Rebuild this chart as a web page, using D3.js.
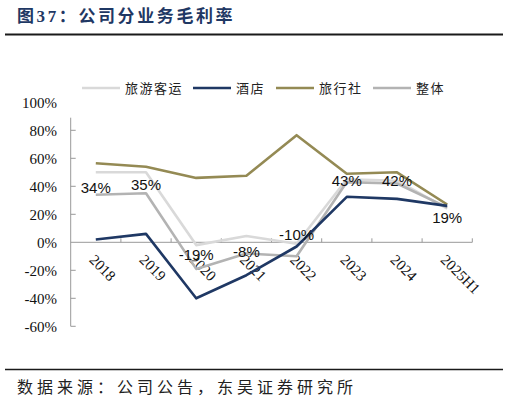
<!DOCTYPE html>
<html>
<head>
<meta charset="utf-8">
<script src="https://cdn.jsdelivr.net/npm/d3@7"></script>
<style>
  body { margin: 0; background: #fff; }
  svg { display: block; }
</style>
</head>
<body>
<div id="chart"></div>
<script>
// categories
const years = ['2018', '2019', '2020', '2021', '2022', '2023', '2024', '2025H1'];

// series values (%)
const coachValues  = [50, 50, -2, 4.5, -1, 45, 44, 24];       // 旅游客运
const hotelValues  = [2, 6, -40, -23.5, -3, 32.5, 31, 26];    // 酒店
const agencyValues = [56.5, 54, 46, 47.5, 76.5, 49, 50, 27];  // 旅行社
const totalValues  = [34, 35, -19, -8, -10, 43, 42, 25];      // 整体

// labels on the total series
const totalLabels = ['34%', '35%', '-19%', '-8%', '-10%', '43%', '42%', '19%'];
const labelDy = [-2, -3, -9, 3, -16, 4, 2, 16];

// y axis ticks
const yTicks = [-60, -40, -20, 0, 20, 40, 60, 80, 100];

const width = 509, height = 402;
const plot = {left: 70.7, right: 472.3, top: 102.3, bottom: 326.3};

const svg = d3.select('#chart').append('svg')
    .attr('width', width)
    .attr('height', height);

const x = d3.scaleBand().domain(years).range([plot.left, plot.right]);
const y = d3.scaleLinear().domain([-60, 100]).range([plot.bottom, plot.top]);
const cx = d => x(d) + x.bandwidth() / 2;

// title
svg.append('text')
    .attr('x', 17).attr('y', 22)
    .attr('fill', '#1f3864')
    .attr('font-family', '"Liberation Serif", "Noto Sans CJK SC", serif')
    .attr('font-weight', 'bold')
    .attr('font-size', 17)
    .attr('letter-spacing', 2.6)
    .text('图37：公司分业务毛利率');
svg.append('line')
    .attr('x1', 5).attr('x2', 503).attr('y1', 34.5).attr('y2', 34.5)
    .attr('stroke', '#1a1a1a').attr('stroke-width', 2);

// y axis
svg.append('line')
    .attr('x1', plot.left).attr('x2', plot.left)
    .attr('y1', y(89)).attr('y2', y(-60))
    .attr('stroke', '#999').attr('stroke-width', 1);
svg.append('g').selectAll('line')
    .data(yTicks.filter(v => v < 100 && v !== 0))
    .join('line')
    .attr('x1', plot.left).attr('x2', plot.left + 5)
    .attr('y1', d => y(d)).attr('y2', d => y(d))
    .attr('stroke', '#999');
svg.append('g').selectAll('text')
    .data(yTicks)
    .join('text')
    .attr('x', 57).attr('y', d => y(d))
    .attr('dy', '0.35em')
    .attr('text-anchor', 'end')
    .attr('font-family', '"Liberation Serif", serif')
    .attr('font-size', 15)
    .attr('fill', '#111')
    .text(d => d + '%');

// x axis at zero
svg.append('line')
    .attr('x1', plot.left).attr('x2', plot.right)
    .attr('y1', y(0)).attr('y2', y(0))
    .attr('stroke', '#999');
svg.append('g').selectAll('line')
    .data(years.slice(1).concat(['end']))
    .join('line')
    .attr('x1', (d, i) => plot.left + (i + 1) * x.bandwidth())
    .attr('x2', (d, i) => plot.left + (i + 1) * x.bandwidth())
    .attr('y1', y(0)).attr('y2', y(0) - 4)
    .attr('stroke', '#999');
svg.append('g').selectAll('text')
    .data(years)
    .join('text')
    .attr('transform', d => `translate(${cx(d)},${y(0) + 11}) rotate(45)`)
    .attr('dy', '0.7em')
    .attr('font-family', '"Liberation Serif", serif')
    .attr('font-size', 15)
    .attr('fill', '#111')
    .text(d => d);

// series
const series = [
    {name: '旅游客运', values: coachValues, color: '#d9d9d9'},
    {name: '酒店', values: hotelValues, color: '#1f3864'},
    {name: '旅行社', values: agencyValues, color: '#948a54'},
    {name: '整体', values: totalValues, color: '#b3b3b3'}
];

const line = d3.line()
    .x((d, i) => cx(years[i]))
    .y(d => y(d));

svg.append('g').selectAll('path')
    .data([series[0], series[3], series[2], series[1]])
    .join('path')
    .attr('d', d => line(d.values))
    .attr('fill', 'none')
    .attr('stroke', d => d.color)
    .attr('stroke-width', 2.6)
    .attr('stroke-linejoin', 'round');

// labels on total
svg.append('g').selectAll('text')
    .data(totalValues)
    .join('text')
    .attr('x', (d, i) => cx(years[i]))
    .attr('y', (d, i) => y(d) + labelDy[i])
    .attr('text-anchor', 'middle')
    .attr('font-family', '"Liberation Sans", Arial, sans-serif')
    .attr('font-size', 15)
    .attr('fill', '#111')
    .text((d, i) => totalLabels[i]);

// legend
const legendX = [82, 193, 276, 373];
const legend = svg.append('g').selectAll('g')
    .data(series)
    .join('g')
    .attr('transform', (d, i) => `translate(${legendX[i]},88)`);
legend.append('line')
    .attr('x1', 0).attr('x2', 38)
    .attr('stroke', d => d.color)
    .attr('stroke-width', 2.6);
legend.append('text')
    .attr('x', 43).attr('dy', '0.35em')
    .attr('font-family', '"Noto Sans CJK SC", sans-serif')
    .attr('font-size', 13)
    .attr('letter-spacing', 1.5)
    .attr('fill', '#222')
    .text(d => d.name);

// source
svg.append('line')
    .attr('x1', 5).attr('x2', 503).attr('y1', 369.5).attr('y2', 369.5)
    .attr('stroke', '#1a1a1a').attr('stroke-width', 1.5);
svg.append('text')
    .attr('x', 17).attr('y', 393)
    .attr('font-family', '"Noto Sans CJK SC", sans-serif')
    .attr('font-size', 16)
    .attr('letter-spacing', 4)
    .attr('fill', '#222')
    .text('数据来源：公司公告，东吴证券研究所');
</script>
</body>
</html>
